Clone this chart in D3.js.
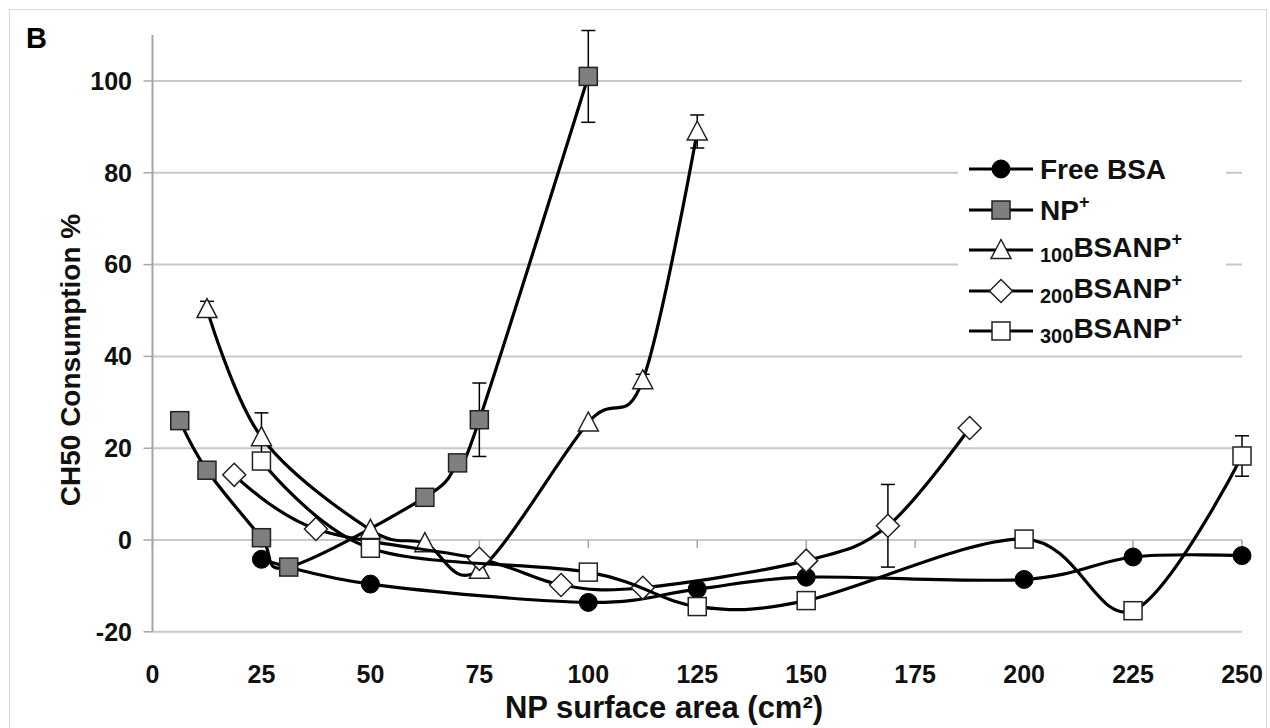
<!DOCTYPE html>
<html>
<head>
<meta charset="utf-8">
<script src="https://cdn.jsdelivr.net/npm/d3@7"></script>
<style>
  body { margin: 0; background: #fff; }
  svg { display: block; font-family: "Liberation Sans", Arial, sans-serif; font-weight: bold; }
</style>
</head>
<body>
<svg id="chart" width="1270" height="728"></svg>
<script>
// tick labels
var xTicks = [0, 25, 50, 75, 100, 125, 150, 175, 200, 225, 250];
var yTicks = [-20, 0, 20, 40, 60, 80, 100];

// series values (x = NP surface area, y = CH50 consumption %)
var freeX = [25, 50, 100, 125, 150, 200, 225, 250];
var freeY = [-4.2, -9.6, -13.6, -10.7, -8.1, -8.6, -3.7, -3.4];

var npX = [6.25, 12.5, 25, 31.25, 62.5, 70, 75, 100];
var npY = [26, 15.2, 0.5, -5.9, 9.3, 16.8, 26.2, 101];
var npErr = [0, 0, 0, 0, 0, 0, 8, 10];

var bsa100X = [12.5, 25, 50, 62.5, 75, 100, 112.5, 125];
var bsa100Y = [50.3, 22.4, 2.2, -0.7, -6.5, 25.6, 34.8, 89];
var bsa100Err = [1.7, 5.3, 0, 0, 0, 0, 1.3, 3.6];

var bsa200X = [18.75, 37.5, 75, 93.75, 112.5, 150, 168.75, 187.5];
var bsa200Y = [14.2, 2.4, -4.1, -9.8, -10.4, -4.5, 3.1, 24.4];
var bsa200Err = [0, 0, 0, 0, 0, 0, 9, 0.8];

var bsa300X = [25, 50, 100, 125, 150, 200, 225, 250];
var bsa300Y = [17.2, -1.8, -7, -14.5, -13.2, 0.2, -15.4, 18.3];
var bsa300Err = [1, 0, 0, 0, 1.5, 0, 0, 4.4];

function zip(xs, ys, es) {
  return xs.map(function(x, i) { return { x: x, y: ys[i], e: es ? es[i] : 0 }; });
}

var series = [
  { sub: "", name: "Free BSA", sup: "", shape: "circle", fill: "#000", points: zip(freeX, freeY) },
  { sub: "", name: "NP", sup: "+", shape: "square", fill: "#7f7f7f", points: zip(npX, npY, npErr) },
  { sub: "100", name: "BSANP", sup: "+", shape: "triangle", fill: "#fff", points: zip(bsa100X, bsa100Y, bsa100Err) },
  { sub: "200", name: "BSANP", sup: "+", shape: "diamond", fill: "#fff", points: zip(bsa200X, bsa200Y, bsa200Err) },
  { sub: "300", name: "BSANP", sup: "+", shape: "square", fill: "#fff", points: zip(bsa300X, bsa300Y, bsa300Err) }
];

var svg = d3.select("#chart");

// light outer frame
svg.append("rect")
  .attr("x", 9.5).attr("y", 9.5).attr("width", 1257).attr("height", 740)
  .attr("fill", "none").attr("stroke", "#d9d9d9");

var x = d3.scaleLinear().domain([0, 250]).range([152.5, 1242]);
var y = d3.scaleLinear().domain([-20, 110]).range([631.8, 35.1]);

// gridlines
svg.append("g").selectAll("line")
  .data(yTicks)
  .enter().append("line")
    .attr("x1", x(0)).attr("x2", x(250))
    .attr("y1", function(d) { return y(d); })
    .attr("y2", function(d) { return y(d); })
    .attr("stroke", "#c8c8c8")
    .attr("stroke-width", 2);

// y axis line + ticks
svg.append("line")
  .attr("x1", x(0)).attr("x2", x(0))
  .attr("y1", y(110)).attr("y2", y(-20))
  .attr("stroke", "#a6a6a6").attr("stroke-width", 2);

svg.append("g").selectAll("line")
  .data(yTicks)
  .enter().append("line")
    .attr("x1", x(0) - 9).attr("x2", x(0))
    .attr("y1", function(d) { return y(d); })
    .attr("y2", function(d) { return y(d); })
    .attr("stroke", "#a6a6a6").attr("stroke-width", 1.5);

// x ticks hang below the zero line
svg.append("g").selectAll("line")
  .data(xTicks)
  .enter().append("line")
    .attr("x1", function(d) { return x(d); })
    .attr("x2", function(d) { return x(d); })
    .attr("y1", y(0)).attr("y2", y(0) + 8)
    .attr("stroke", "#a6a6a6").attr("stroke-width", 1.5);

svg.append("g").selectAll("text")
  .data(yTicks)
  .enter().append("text")
    .attr("x", 132)
    .attr("y", function(d) { return y(d); })
    .attr("dy", "0.35em")
    .attr("text-anchor", "end")
    .attr("font-size", 25)
    .attr("fill", "#111")
    .text(function(d) { return d; });

svg.append("g").selectAll("text")
  .data(xTicks)
  .enter().append("text")
    .attr("x", function(d) { return x(d); })
    .attr("y", 683)
    .attr("text-anchor", "middle")
    .attr("font-size", 25)
    .attr("fill", "#111")
    .text(function(d) { return d; });

// axis titles
svg.append("text")
  .attr("transform", "translate(80,360) rotate(-90)")
  .attr("text-anchor", "middle")
  .attr("font-size", 28)
  .attr("fill", "#111")
  .text("CH50 Consumption %");

svg.append("text")
  .attr("x", 664).attr("y", 718)
  .attr("text-anchor", "middle")
  .attr("font-size", 31)
  .attr("fill", "#111")
  .text("NP surface area (cm²)");

svg.append("text")
  .attr("x", 26).attr("y", 48)
  .attr("font-size", 29)
  .attr("fill", "#000")
  .text("B");

function marker(sel, shape, fill) {
  if (shape === "circle") {
    sel.append("circle").attr("r", 9).attr("fill", fill).attr("stroke", "#000").attr("stroke-width", 1);
  } else if (shape === "square") {
    sel.append("rect").attr("x", -9).attr("y", -9).attr("width", 18).attr("height", 18)
      .attr("fill", fill).attr("stroke", "#222").attr("stroke-width", 1.5);
  } else if (shape === "triangle") {
    sel.append("path").attr("d", "M0,-10.5L10,8.5L-10,8.5Z")
      .attr("fill", fill).attr("stroke", "#222").attr("stroke-width", 1.5);
  } else if (shape === "diamond") {
    sel.append("path").attr("d", "M0,-11.5L11.5,0L0,11.5L-11.5,0Z")
      .attr("fill", fill).attr("stroke", "#222").attr("stroke-width", 1.5);
  }
}

var line = d3.line()
  .x(function(d) { return x(d.x); })
  .y(function(d) { return y(d.y); })
  .curve(d3.curveCatmullRom.alpha(0));

series.forEach(function(s) {
  var g = svg.append("g");
  g.append("path")
    .datum(s.points)
    .attr("fill", "none")
    .attr("stroke", "#000")
    .attr("stroke-width", 3.2)
    .attr("d", line);

  var eb = g.append("g").selectAll("g")
    .data(s.points.filter(function(d) { return d.e > 0; }))
    .enter().append("g").attr("stroke", "#000").attr("stroke-width", 1.5);
  eb.append("line")
    .attr("x1", function(d) { return x(d.x); }).attr("x2", function(d) { return x(d.x); })
    .attr("y1", function(d) { return y(d.y + d.e); }).attr("y2", function(d) { return y(d.y - d.e); });
  eb.append("line")
    .attr("x1", function(d) { return x(d.x) - 7; }).attr("x2", function(d) { return x(d.x) + 7; })
    .attr("y1", function(d) { return y(d.y + d.e); }).attr("y2", function(d) { return y(d.y + d.e); });
  eb.append("line")
    .attr("x1", function(d) { return x(d.x) - 7; }).attr("x2", function(d) { return x(d.x) + 7; })
    .attr("y1", function(d) { return y(d.y - d.e); }).attr("y2", function(d) { return y(d.y - d.e); });

  g.append("g").selectAll("g")
    .data(s.points)
    .enter().append("g")
      .attr("transform", function(d) { return "translate(" + x(d.x) + "," + y(d.y) + ")"; })
      .each(function() { marker(d3.select(this), s.shape, s.fill); });
});

// legend
var legend = svg.append("g");
legend.append("rect")
  .attr("x", 958).attr("y", 145).attr("width", 268).attr("height", 205)
  .attr("fill", "#fff");

var rowY = [169, 210, 250, 291, 331];
series.forEach(function(s, i) {
  var row = legend.append("g").attr("transform", "translate(0," + rowY[i] + ")");
  row.append("line").attr("x1", 969).attr("x2", 1033).attr("y1", 0).attr("y2", 0)
    .attr("stroke", "#000").attr("stroke-width", 3.2);
  marker(row.append("g").attr("transform", "translate(1001,0)"), s.shape, s.fill);
  var t = row.append("text").attr("x", 1040).attr("font-size", 28).attr("fill", "#111");
  if (s.sub) {
    t.attr("y", 12);
    t.append("tspan").attr("font-size", 20).text(s.sub);
    t.append("tspan").attr("dy", -5).text(s.name);
  } else {
    t.attr("y", 10);
    t.append("tspan").text(s.name);
  }
  if (s.sup) t.append("tspan").attr("font-size", 18).attr("dy", -12).text(s.sup);
});
</script>
</body>
</html>
